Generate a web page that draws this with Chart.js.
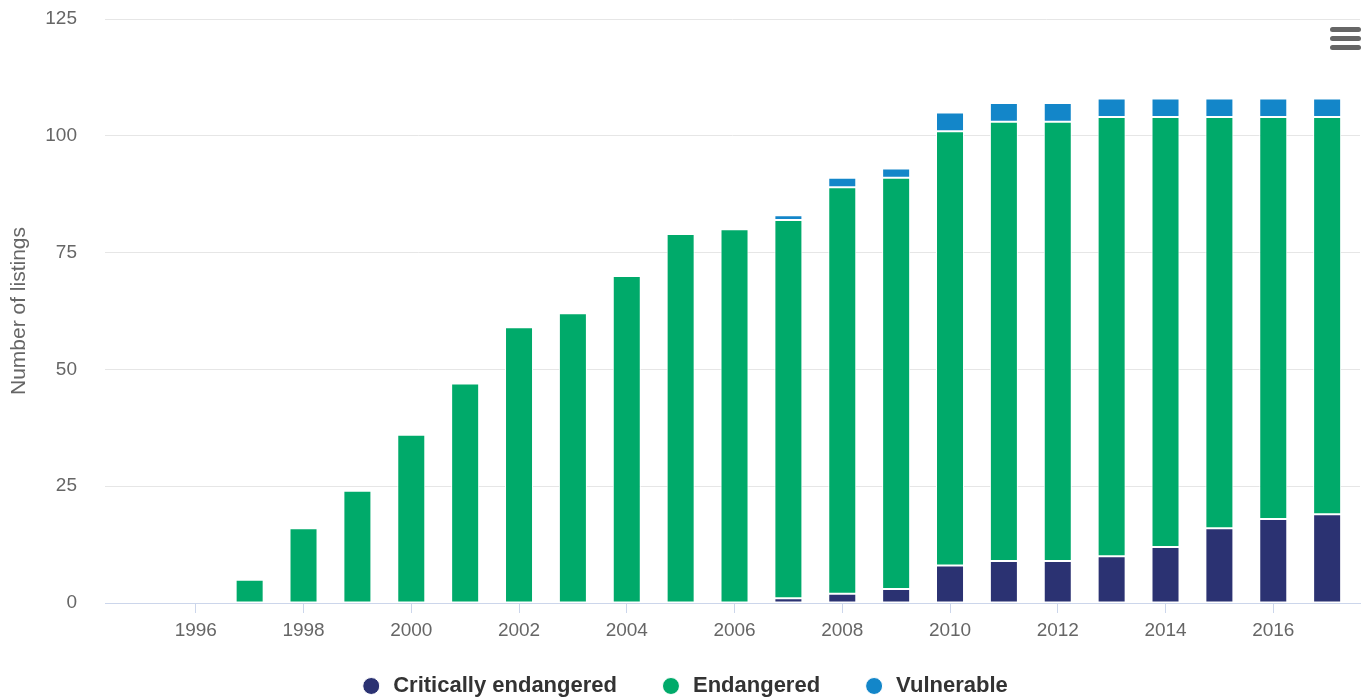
<!DOCTYPE html>
<html>
<head>
<meta charset="utf-8">
<script src="https://cdn.jsdelivr.net/npm/chart.js@4/dist/chart.umd.min.js"></script>
<style>
  html, body { margin: 0; padding: 0; background: #fff; }
  #wrap { position: relative; width: 1368px; height: 700px; }
  #menu { position: absolute; left: 1330px; top: 27px; width: 31px; }
  #menu div { height: 5px; background: #666; border-radius: 3px; margin-bottom: 4px; }
</style>
</head>
<body>
<div id="wrap">
  <canvas id="chart" width="1368" height="700"></canvas>
  <div id="menu"><div></div><div></div><div></div></div>
</div>
<script>
// years on the x axis, one bar per year
var years = [1995, 1996, 1997, 1998, 1999, 2000, 2001, 2002, 2003, 2004, 2005, 2006,
             2007, 2008, 2009, 2010, 2011, 2012, 2013, 2014, 2015, 2016, 2017];

// number of listings per category
var criticallyEndangered = [0, 0, 0, 0, 0, 0, 0, 0, 0, 0, 0, 0,
                            1, 2, 3, 8, 9, 9, 10, 12, 16, 18, 19];
var endangered = [0, 0, 5, 16, 24, 36, 47, 59, 62, 70, 79, 80,
                  81, 87, 88, 93, 94, 94, 94, 92, 88, 86, 85];
var vulnerable = [0, 0, 0, 0, 0, 0, 0, 0, 0, 0, 0, 0,
                  1, 2, 2, 4, 4, 4, 4, 4, 4, 4, 4];

var xTickLabels = [1996, 1998, 2000, 2002, 2004, 2006, 2008, 2010, 2012, 2014, 2016];
var yTicks = [0, 25, 50, 75, 100, 125];

function points(values) {
  return years.map((y, i) => ({ x: y, y: values[i] }));
}

function series(label, values, color) {
  return {
    label: label,
    data: points(values),
    backgroundColor: color,
    borderColor: '#ffffff',
    borderWidth: 1,
    borderSkipped: false,
    categoryPercentage: 0.52,
    barPercentage: 1
  };
}

// the legend needs wide gaps between items (labels.padding), which also makes
// it tall; pull it up a bit so it sits close under the axis labels
var legendNudge = {
  id: 'legendNudge',
  afterLayout(chart) {
    chart.legend.top -= 11;
    chart.legend.bottom -= 11;
  }
};

new Chart(document.getElementById('chart'), {
  type: 'bar',
  data: {
    datasets: [
      series('Critically endangered', criticallyEndangered, '#2b3272'),
      series('Endangered', endangered, '#00aa6a'),
      series('Vulnerable', vulnerable, '#1386c9')
    ]
  },
  plugins: [legendNudge],
  options: {
    responsive: false,
    animation: false,
    layout: { padding: { top: 19, right: 8, bottom: -18, left: 8 } },
    plugins: {
      tooltip: { enabled: false },
      legend: {
        position: 'bottom',
        labels: {
          usePointStyle: true,
          pointStyle: 'circle',
          boxWidth: 22,
          boxHeight: 12,
          padding: 43,
          color: '#333333',
          font: { family: 'Liberation Sans, Arial, sans-serif', size: 22, weight: 'bold' }
        }
      }
    },
    scales: {
      x: {
        type: 'linear',
        stacked: true,
        offset: false,
        min: 1994.315,
        max: 2017.61,
        afterBuildTicks: s => { s.ticks = xTickLabels.map(v => ({ value: v })); },
        afterFit: s => { s.height = 40; },
        grid: { offset: false, drawOnChartArea: false, drawTicks: true, tickLength: 10, color: '#ccd6eb' },
        border: { color: '#ccd6eb', width: 1 },
        ticks: {
          autoSkip: false,
          maxRotation: 0,
          padding: 6,
          color: '#666666',
          font: { family: 'Liberation Sans, Arial, sans-serif', size: 19 },
          callback: v => String(v)
        }
      },
      y: {
        stacked: true,
        min: 0,
        max: 125,
        afterBuildTicks: s => { s.ticks = yTicks.map(v => ({ value: v })); },
        afterFit: s => { s.width = 97; },
        grid: { color: '#e6e6e6', drawTicks: true, tickLength: 28, tickColor: 'rgba(0,0,0,0)' },
        border: { display: false },
        ticks: {
          padding: 0,
          color: '#666666',
          font: { family: 'Liberation Sans, Arial, sans-serif', size: 19 }
        },
        title: {
          display: true,
          text: 'Number of listings',
          color: '#666666',
          padding: { top: -1, bottom: 0 },
          font: { family: 'Liberation Sans, Arial, sans-serif', size: 21 }
        }
      }
    }
  }
});
</script>
</body>
</html>
